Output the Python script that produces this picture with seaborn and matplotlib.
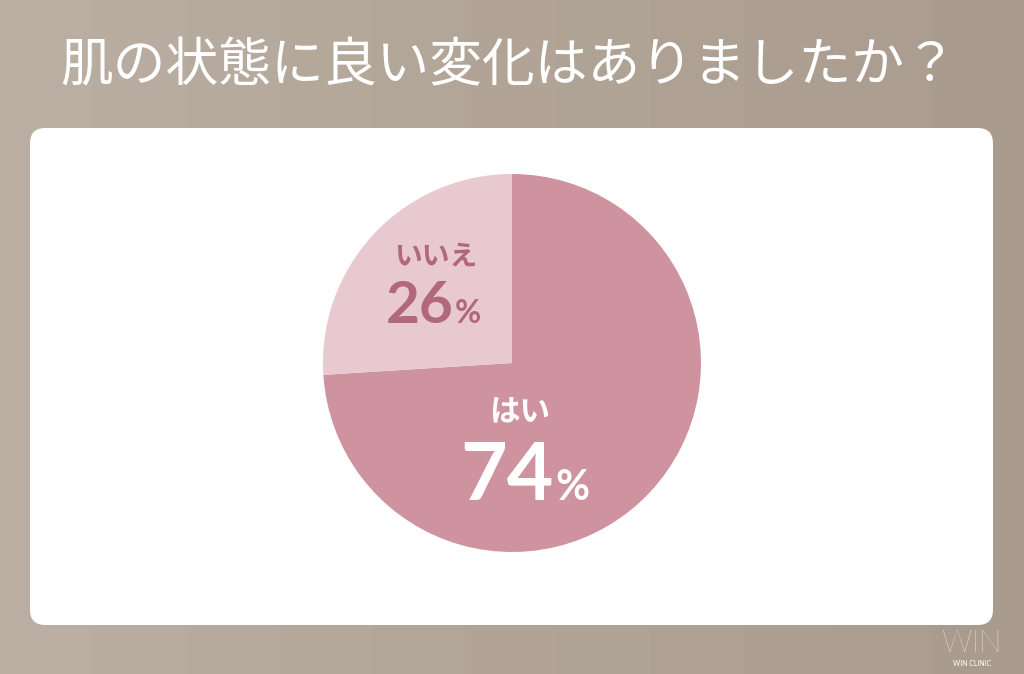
import numpy as np
import matplotlib.pyplot as plt
import seaborn as sns
from matplotlib.patches import FancyBboxPatch

sns.set_theme(style="white")
plt.rcParams['font.family'] = ['Noto Sans CJK JP', 'DejaVu Sans']

# data
title = "肌の状態に良い変化はありましたか？"
labels = ["はい", "いいえ"]
shares = [74, 26]
slice_colors = ["#cf939f", "#e8c9cf"]

W, H = 1024, 674
fig = plt.figure(figsize=(W / 100, H / 100), dpi=100)

# background gradient with faint vertical bands
bg = fig.add_axes([0, 0, 1, 1])
bg.set_axis_off()
c0 = np.array([0xb9, 0xae, 0xa1]) / 255
c1 = np.array([0xa8, 0x9a, 0x8d]) / 255
t = np.floor(np.linspace(0, 1, W) * 11) / 11
grad = c0[None, :] * (1 - t[:, None]) + c1[None, :] * t[:, None]
bg.imshow(grad[None, :, :], aspect="auto", extent=[0, 1, 0, 1])
bg.set_xlim(0, 1)
bg.set_ylim(0, 1)

# white panel
px0, px1, py0, py1 = 30, 993, 128, 625
panel = FancyBboxPatch((px0 / W, 1 - py1 / H), (px1 - px0) / W, (py1 - py0) / H,
                       boxstyle="round,pad=0,rounding_size=0.015",
                       transform=bg.transAxes, fc="white", ec="none",
                       mutation_aspect=W / H)
bg.add_patch(panel)

fig.text(0.497, 0.902, title, ha="center", va="center", color="white",
         fontsize=38, fontweight="regular")

# logo
fig.text(0.949, 0.045, "WIN", ha="center", va="center", color="white",
         fontsize=22, fontweight="light", family=["Lato", "DejaVu Sans"])
fig.text(0.949, 0.016, "WIN CLINIC", ha="center", va="center", color="white",
         fontsize=5, family=["Lato", "DejaVu Sans"])

# pie
cx, cy, r = 512, 363, 189
ax = fig.add_axes([(cx - r) / W, 1 - (cy + r) / H, 2 * r / W, 2 * r / H])
ax.pie(shares, colors=slice_colors, startangle=90, counterclock=False,
       radius=1, wedgeprops=dict(linewidth=0))
ax.set_xlim(-1, 1)
ax.set_ylim(-1, 1)
ax.set_aspect("equal")
ax.set_axis_off()

def pct_label(x, y, name, value, color, name_xy, name_size, num_size, pct_size):
    ax.text(name_xy[0], name_xy[1], name, ha="center", va="center", color=color,
            fontsize=name_size, fontweight="bold")
    ax.text(x, y, str(value), ha="right", va="baseline", color=color,
            fontsize=num_size, fontweight="bold", family=["Lato", "DejaVu Sans"])
    ax.text(x + 0.01, y, "%", ha="left", va="baseline", color=color,
            fontsize=pct_size, fontweight="bold", family=["Lato", "DejaVu Sans"])

pct_label(0.222, -0.725, labels[0], shares[0], "white", (0.042, -0.26), 22, 58, 30)
pct_label(-0.312, 0.212, labels[1], shares[1], "#b1687b", (-0.405, 0.56), 20, 42, 23)

fig.savefig("out.png", dpi=100)
